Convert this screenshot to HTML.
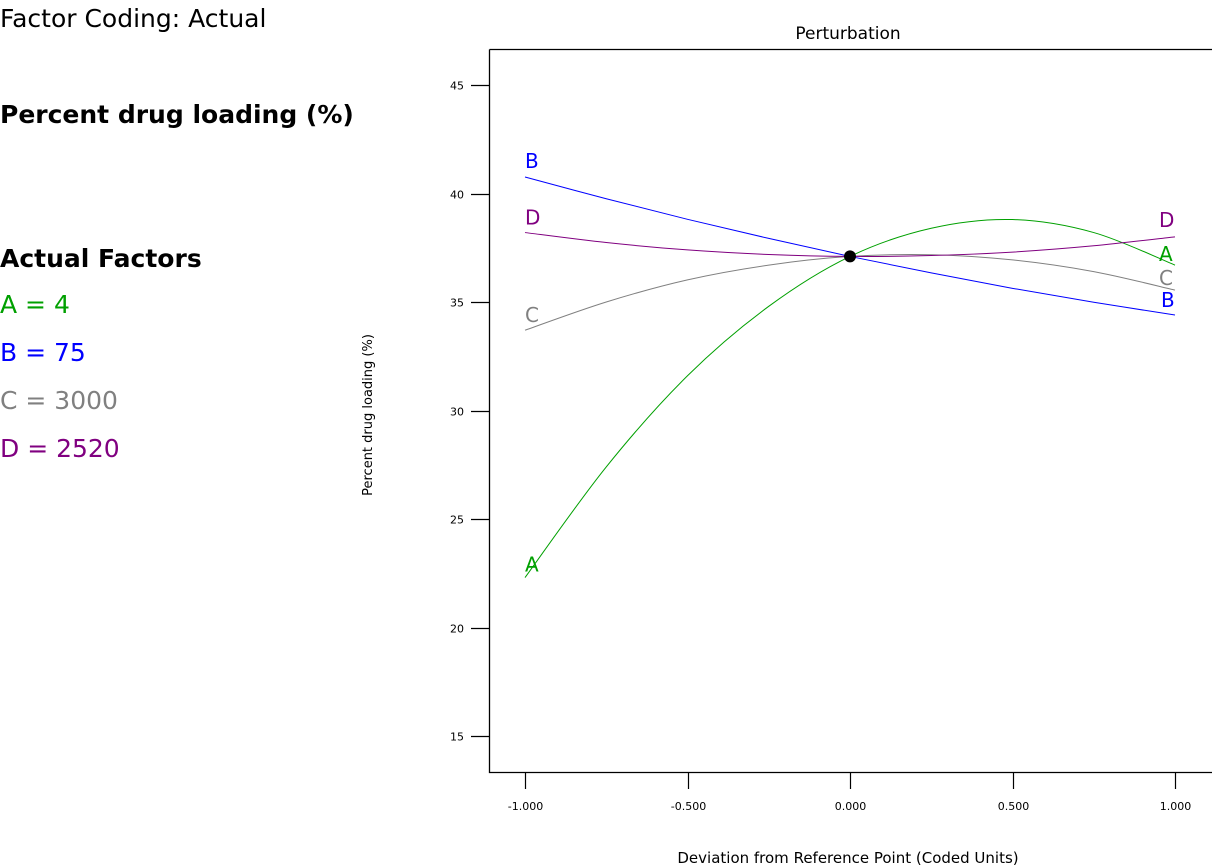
<!DOCTYPE html>
<html><head><meta charset="utf-8">
<style>
body{margin:0;width:1212px;height:867px;background:#fff;font-family:"DejaVu Sans","Liberation Sans",sans-serif;overflow:hidden;position:relative}
.t{position:absolute;white-space:nowrap}
</style></head><body>
<div class="t" style="left:0;top:4px;font-size:25px;color:#000">Factor Coding: Actual</div>
<div class="t" style="left:0;top:100px;font-size:25px;font-weight:bold">Percent drug loading (%)</div>
<div class="t" style="left:0;top:244px;font-size:25px;font-weight:bold">Actual Factors</div>
<div class="t" style="left:0;top:290px;font-size:25px;color:#00a000">A = 4</div>
<div class="t" style="left:0;top:338px;font-size:25px;color:#0000ff">B = 75</div>
<div class="t" style="left:0;top:386px;font-size:25px;color:#808080">C = 3000</div>
<div class="t" style="left:0;top:434px;font-size:25px;color:#800080">D = 2520</div>
<svg id="chart" width="1212" height="867" style="position:absolute;left:0;top:0" font-family="DejaVu Sans, Liberation Sans, sans-serif"></svg>
<script>
const xs=[-1,-0.75,-0.5,-0.25,0,0.25,0.5,0.75,1];
const seriesA=[22.3,27.4,31.6,34.8,37.1,38.4,38.8,38.2,36.7];
const seriesB=[40.76,39.76,38.81,37.93,37.1,36.34,35.63,34.99,34.4];
const seriesC=[33.7,35.0,36.02,36.7,37.1,37.18,36.94,36.4,35.55];
const seriesD=[38.2,37.74,37.4,37.19,37.1,37.14,37.3,37.59,38.0];
const yTicks=[15,20,25,30,35,40,45];
const xTicks=[-1,-0.5,0,0.5,1];
const xTickLabels=["-1.000","-0.500","0.000","0.500","1.000"];
const refPoint=[0,37.1];
const svg=document.getElementById('chart');
const NS='http://www.w3.org/2000/svg';
function X(v){return 850+v*325;}
function Y(v){return 85+(45-v)*21.7;}
function mk(tag,at){const e=document.createElementNS(NS,tag);for(const k in at)e.setAttribute(k,at[k]);svg.appendChild(e);return e;}
let e=mk('path',{d:'M489.5,49.5 H1212 M489.5,49.5 V772.5 H1212',stroke:'#000','stroke-width':1.3,fill:'none'});


e=mk('text',{x:848,y:39,'font-size':17,'text-anchor':'middle'});e.textContent='Perturbation';


e=mk('text',{x:848,y:863,'font-size':15,'text-anchor':'middle'});e.textContent='Deviation from Reference Point (Coded Units)';


e=mk('text',{x:0,y:0,'font-size':13,'text-anchor':'middle',transform:'translate(372,415) rotate(-90)'});e.textContent='Percent drug loading (%)';


yTicks.forEach(v=>{const y=Math.round(Y(v))+0.5;
 let l=mk('line',{x1:471,x2:489,y1:y,y2:y,stroke:'#000','stroke-width':1.2});
 
 
 let t=mk('text',{x:464,y:y+4,'font-size':11,'text-anchor':'end'});t.textContent=v;
 
 });
xTicks.forEach((v,i)=>{const x=Math.round(X(v))+0.5;
 let l=mk('line',{x1:x,x2:x,y1:772,y2:789,stroke:'#000','stroke-width':1.2});
 
 
 let t=mk('text',{x:x,y:810,'font-size':11,'text-anchor':'middle'});t.textContent=xTickLabels[i];
 
 });
function curve(vals){const p=xs.map((x,i)=>[X(x),Y(vals[i])]);let d='M'+p[0][0]+','+p[0][1];
 for(let i=0;i<p.length-1;i++){const p0=p[i-1]||p[i],p1=p[i],p2=p[i+1],p3=p[i+2]||p[i+1];
 d+=` C${p1[0]+(p2[0]-p0[0])/6},${p1[1]+(p2[1]-p0[1])/6} ${p2[0]-(p3[0]-p1[0])/6},${p2[1]-(p3[1]-p1[1])/6} ${p2[0]},${p2[1]}`;}return d;}
const series=[['A',seriesA,'#00a000',[0,-6],[-16,-4]],['C',seriesC,'#808080',[0,-8],[-16,-5]],['D',seriesD,'#800080',[0,-8],[-16,-10]],['B',seriesB,'#0000ff',[0,-9],[-14,-8]]];
series.forEach(([n,vals,c,o1,o2])=>{
 let p=mk('path',{d:curve(vals),stroke:c,'stroke-width':1,fill:'none'});
 
 
 let t1=mk('text',{x:X(xs[0])+o1[0],y:Y(vals[0])+o1[1],'font-size':20,fill:c});t1.textContent=n;
 
 
 let t2=mk('text',{x:X(xs[xs.length-1])+o2[0],y:Y(vals[vals.length-1])+o2[1],'font-size':20,fill:c});t2.textContent=n;
 
 
});
e=mk('circle',{cx:X(refPoint[0]),cy:Y(refPoint[1]),r:6,fill:'#000'});


</script>
</body></html>
